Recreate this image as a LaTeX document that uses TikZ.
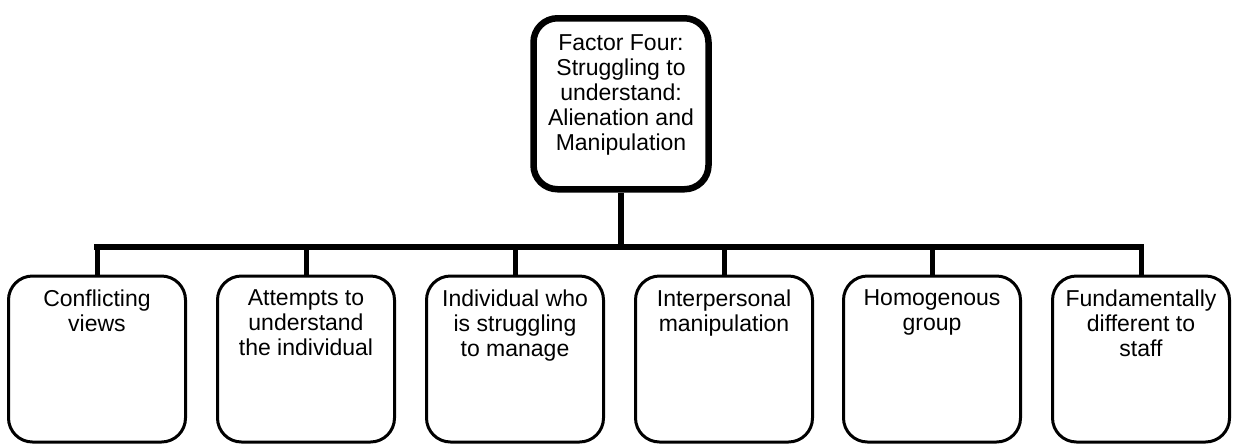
\documentclass[tikz,border=0pt]{standalone}
\usepackage{fontspec}
\setmainfont{Liberation Sans}
\tikzset{
  factor/.style={draw, line width=6.5pt, rounded corners=24pt, inner sep=0pt, font=\fontsize{23}{25}\selectfont},
  theme/.style={draw, line width=3pt, rounded corners=24pt, inner sep=0pt, font=\fontsize{23}{25}\selectfont},
  trunk/.style={line width=6pt},
  bus/.style={line width=6.5pt, line cap=rect},
  drop/.style={line width=5pt}
}
\newcommand\factortext[1]{\parbox[t][171pt][t]{175pt}{\centering\vspace*{16.5pt}#1}}
\newcommand\themetext[1]{\parbox[t][166pt][t]{177pt}{\centering\vspace*{14pt}#1}}
\begin{document}
\begin{tikzpicture}[x=1pt,y=-1pt]
\useasboundingbox (0,0) rectangle (1233,445);
%Factor
\node[factor, anchor=north] (four) at (621,15) {\factortext{Factor Four:\\Struggling to\\understand:\\Alienation and\\Manipulation}};
%Themes
\node[theme, anchor=north] (t1) at (97,274.5) {\themetext{Conflicting\\views}};
\node[theme, anchor=north] (t2) at (306,274.5) {\themetext{Attempts to\\understand\\the individual}};
\node[theme, anchor=north] (t3) at (515,274.5) {\themetext{Individual who\\is struggling\\to manage}};
\node[theme, anchor=north] (t4) at (724,274.5) {\themetext{Interpersonal\\manipulation}};
\node[theme, anchor=north] (t5) at (932,274.5) {\themetext{Homogenous\\group}};
\node[theme, anchor=north] (t6) at (1141,274.5) {\themetext{Fundamentally\\different to\\staff}};
%Tree
\coordinate (hub) at (621,247);
\draw[trunk] (four.south) -- (hub);
\draw[bus] (t1.north |- hub) -- (t6.north |- hub);
\foreach \i in {1,...,6}
  \draw[drop] (t\i.north |- hub) -- (t\i.north);
\end{tikzpicture}
\end{document}
